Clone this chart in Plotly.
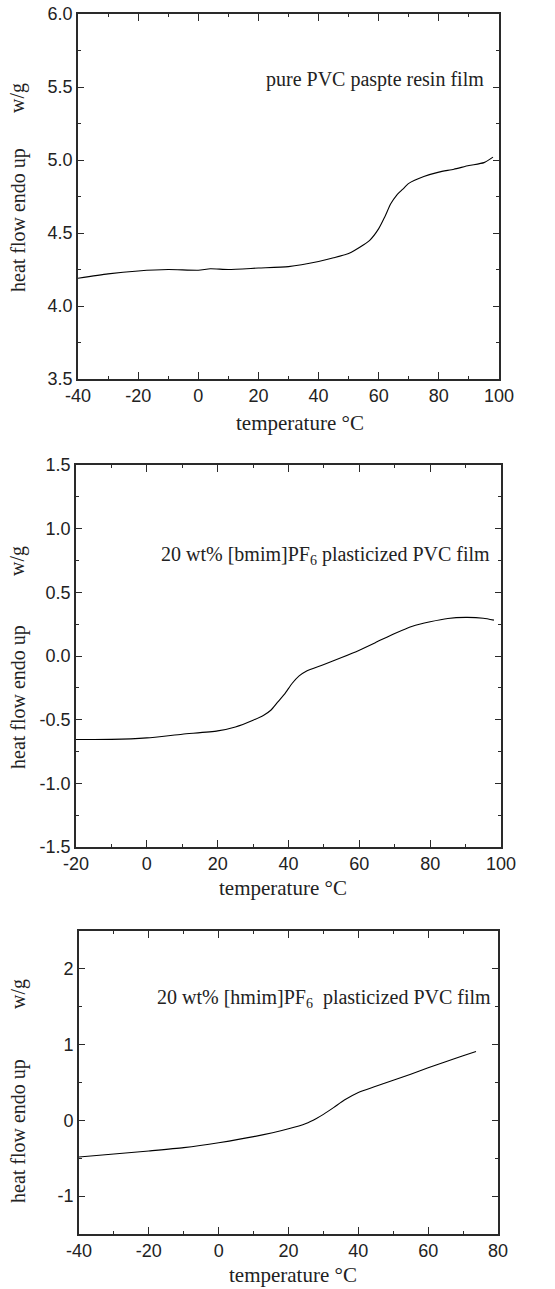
import plotly.graph_objects as go

# DSC heat-flow curves (heat flow, endo up, W/g vs temperature in °C)
temp_pure = [-40, -30, -20, -10, 0, 4, 10, 20, 30, 40, 45, 50, 55, 57, 60, 62, 64, 66, 68, 70, 75, 80, 85, 90, 95, 98]
flow_pure = [4.19, 4.22, 4.24, 4.25, 4.245, 4.255, 4.25, 4.26, 4.27, 4.305, 4.33, 4.36, 4.42, 4.45, 4.53,
             4.61, 4.70, 4.76, 4.80, 4.84, 4.887, 4.917, 4.937, 4.962, 4.982, 5.02]

temp_bmim = [-20, -10, 0, 10, 20, 25, 30, 33, 35, 37, 39, 41, 43, 45, 50, 55, 60, 65, 70, 75, 80, 85, 90, 95, 98]
flow_bmim = [-0.656, -0.655, -0.643, -0.614, -0.588, -0.557, -0.504, -0.465, -0.426, -0.36, -0.295, -0.216,
             -0.156, -0.119, -0.067, -0.012, 0.046, 0.111, 0.177, 0.234, 0.269, 0.295, 0.303, 0.297, 0.282]

temp_hmim = [-40, -30, -20, -10, 0, 10, 20, 25, 28, 30, 33, 36, 40, 45, 50, 55, 60, 65, 70, 73.7]
flow_hmim = [-0.484, -0.444, -0.404, -0.36, -0.295, -0.215, -0.11, -0.04, 0.026, 0.079, 0.171, 0.268,
             0.369, 0.45, 0.53, 0.61, 0.694, 0.774, 0.853, 0.91]

# tick values and labels per panel
xticks_pure = [-40, -20, 0, 20, 40, 60, 80, 100]
xticks_bmim = [-20, 0, 20, 40, 60, 80, 100]
xticks_hmim = [-40, -20, 0, 20, 40, 60, 80]
yticks_pure = ["3.5", "4.0", "4.5", "5.0", "5.5", "6.0"]
yticks_bmim = ["-1.5", "-1.0", "-0.5", "0.0", "0.5", "1.0", "1.5"]
yticks_hmim = ["-1", "0", "1", "2"]

labels = [
    "pure PVC paspte resin film",
    "20 wt% [bmim]PF<sub>6</sub> plasticized PVC film",
    "20 wt% [hmim]PF<sub>6</sub>  plasticized PVC film",
]

W, H = 555, 1289
SERIF = "Liberation Serif, Times New Roman, serif"
SANS = "Liberation Sans, Arial, sans-serif"
AX = "#2a2a2a"


def px_x(v):
    return v / W


def px_y(v):
    return 1 - v / H


# panel boxes in pixels: (left, right, top, bottom)
boxes = [(78, 499, 14, 379), (76, 501, 465, 847), (79, 498, 931, 1234)]
xranges = [[-40, 100], [-20, 100], [-40, 80]]
yranges = [[3.5, 6.0], [-1.5, 1.5], [-1.5, 2.5]]
ydticks = [0.5, 0.5, 1]
xtick_sets = [xticks_pure, xticks_bmim, xticks_hmim]
ytick_sets = [yticks_pure, yticks_bmim, yticks_hmim]
series = [(temp_pure, flow_pure), (temp_bmim, flow_bmim), (temp_hmim, flow_hmim)]

fig = go.Figure()
layout = dict(
    width=W, height=H,
    margin=dict(l=0, r=0, t=0, b=0, autoexpand=False),
    paper_bgcolor="white", plot_bgcolor="white",
    showlegend=False,
    annotations=[],
)

for i, ((l, r, t, b), xr, yr, dy, xt, yt, (xs, ys)) in enumerate(
        zip(boxes, xranges, yranges, ydticks, xtick_sets, ytick_sets, series)):
    n = "" if i == 0 else str(i + 1)
    xa, ya = "x" + n, "y" + n
    fig.add_trace(go.Scatter(x=xs, y=ys, mode="lines", xaxis=xa, yaxis=ya,
                             line=dict(color="black", width=1.1, shape="spline", smoothing=0.6)))
    common = dict(showline=True, linecolor=AX, linewidth=1.6, mirror="ticks", automargin=False,
                  ticks="inside", tickcolor=AX, tickwidth=1.3, showgrid=False, zeroline=False,
                  tickfont=dict(family=SANS, size=18, color="#222"))
    layout["xaxis" + n] = dict(common, domain=[px_x(l), px_x(r)], range=xr,
                               tickmode="array", tickvals=xt, ticktext=[str(v) for v in xt],
                               ticklen=7, anchor=ya,
                               minor=dict(ticks="inside", ticklen=3, dtick=10, tick0=0, tickcolor=AX))
    layout["yaxis" + n] = dict(common, domain=[px_y(b), px_y(t)], range=yr,
                               tickmode="array", tickvals=[float(s) for s in yt], ticktext=yt,
                               ticklen=6, anchor=xa,
                               minor=dict(ticks="inside", ticklen=3, dtick=dy / 2, tick0=0, tickcolor=AX))

# in-panel sample labels
label_pos = [(486, 80), (492, 555), (493, 998)]
for (x, y), lab in zip(label_pos, labels):
    layout["annotations"].append(dict(
        text=lab, x=px_x(x), y=px_y(y), xref="paper", yref="paper",
        xanchor="right", yanchor="middle", showarrow=False,
        font=dict(family=SERIF, size=20, color="#222")))

# axis titles
xtitle_pos = [(300, 423), (283, 888), (293, 1275)]
for x, y in xtitle_pos:
    layout["annotations"].append(dict(
        text="temperature °C", x=px_x(x), y=px_y(y), xref="paper", yref="paper",
        xanchor="center", yanchor="middle", showarrow=False,
        font=dict(family=SERIF, size=21, color="#222")))

# rotated y titles: main text and unit placed separately
ytitle_pos = [((18, 220), (18, 98)), ((18, 697), (18, 561)), ((18, 1131), (18, 994))]
for (mx, my), (ux, uy) in ytitle_pos:
    for txt, x, y in (("heat flow endo up", mx, my), ("w/g", ux, uy)):
        layout["annotations"].append(dict(
            text=txt, x=px_x(x), y=px_y(y), xref="paper", yref="paper",
            xanchor="center", yanchor="middle", showarrow=False, textangle=-90,
            font=dict(family=SERIF, size=20, color="#222")))

fig.update_layout(**layout)
fig.write_html("out.html")
